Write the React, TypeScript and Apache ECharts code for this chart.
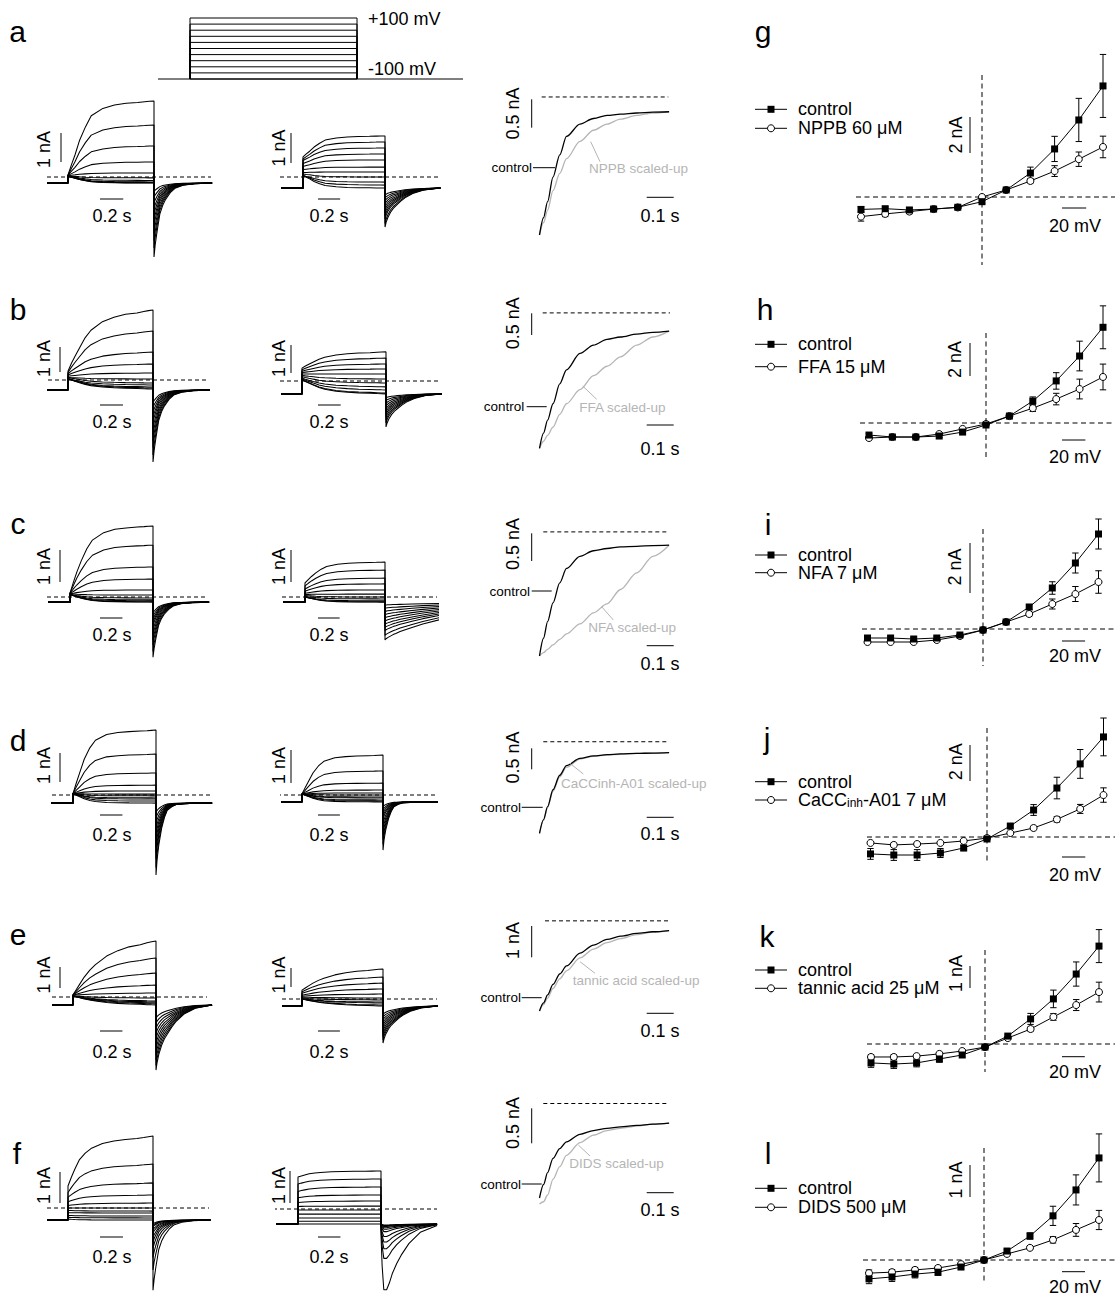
import React, { useEffect, useRef } from "react";
import * as echarts from "echarts";

const FONT = '"Liberation Sans", Arial, Helvetica, sans-serif';
const GRAY = "#b5b5b5";

// ---------------- voltage protocol ----------------
const STEPS_MV = [-100, -80, -60, -40, -20, 0, 20, 40, 60, 80, 100];
const HOLD_MV = -100;
const STEP_S = 0.74;

// ---------------- activation time course and normalized shapes ----------------
// sample times (s) for the expanded comparison panels
const ACT_T = [0, 0.015, 0.03, 0.05, 0.075, 0.1, 0.15, 0.2, 0.25, 0.3, 0.36, 0.42, 0.48];
// sample times (s) for the families of current traces (same shape samples, full step)
const TRACE_ACT_T = [0, 0.03, 0.06, 0.1, 0.15, 0.2, 0.3, 0.4, 0.5, 0.6, 0.66, 0.7, 0.74];
const actA_control = [0, 0.14, 0.27, 0.47, 0.65, 0.8, 0.9, 0.945, 0.97, 0.98, 0.99, 0.997, 1];
const actA_NPPB = [0, 0.1, 0.2, 0.36, 0.5, 0.62, 0.76, 0.85, 0.9, 0.94, 0.97, 0.99, 1];
const actB_control = [0, 0.13, 0.24, 0.38, 0.55, 0.67, 0.81, 0.88, 0.93, 0.95, 0.975, 0.99, 1];
const actB_FFA = [0, 0.06, 0.11, 0.18, 0.29, 0.38, 0.5, 0.62, 0.7, 0.78, 0.88, 0.95, 1];
const actC_control = [0, 0.16, 0.31, 0.48, 0.66, 0.79, 0.9, 0.95, 0.97, 0.985, 0.99, 0.997, 1];
const actC_NFA = [0, 0.03, 0.06, 0.1, 0.15, 0.2, 0.29, 0.39, 0.47, 0.6, 0.75, 0.9, 1];
const actD_control = [0, 0.17, 0.33, 0.54, 0.72, 0.84, 0.93, 0.96, 0.975, 0.985, 0.99, 0.995, 1];
const actD_CaCCinh = [0, 0.16, 0.32, 0.52, 0.7, 0.82, 0.92, 0.955, 0.97, 0.98, 0.99, 0.995, 1];
const actE_control = [0, 0.1, 0.2, 0.33, 0.46, 0.56, 0.72, 0.82, 0.89, 0.93, 0.965, 0.985, 1];
const actE_tannic = [0, 0.08, 0.16, 0.28, 0.4, 0.5, 0.66, 0.77, 0.85, 0.9, 0.95, 0.98, 1];
const actF_control = [0, 0.18, 0.34, 0.53, 0.66, 0.75, 0.85, 0.9, 0.93, 0.95, 0.97, 0.985, 1];
const actF_DIDS = [-0.08, -0.05, 0.04, 0.25, 0.42, 0.57, 0.74, 0.84, 0.9, 0.93, 0.96, 0.985, 1];

// ---------------- tail current time course (s after step end), fraction of peak ----------------
const TAIL_T = [0, 0.01, 0.025, 0.05, 0.075, 0.1, 0.14, 0.18, 0.25, 0.35, 0.5];
const tailFast = [1, 0.84, 0.67, 0.42, 0.3, 0.22, 0.13, 0.07, 0.03, 0.01, 0];
const tailVeryFast = [1, 0.78, 0.58, 0.35, 0.2, 0.1, 0.05, 0.02, 0.01, 0, 0];
const tailMedium = [1, 0.88, 0.76, 0.62, 0.52, 0.45, 0.34, 0.25, 0.14, 0.05, 0];
const tailSlow = [1, 0.97, 0.94, 0.9, 0.86, 0.83, 0.78, 0.74, 0.67, 0.58, 0.47];
const tailHook = [0.15, 0.6, 0.95, 0.95, 0.85, 0.72, 0.57, 0.45, 0.28, 0.12, 0.02];

// ---------------- current families (nA, relative to zero current), per step -100..+100 mV ----------------
const aControlBase = -0.21;
const aControlStart = [0.02, 0.02, 0.03, 0.03, 0.04, 0.04, 0.05, 0.05, 0.06, 0.06, 0.07];
const aControlEnd = [-0.21, -0.2, -0.19, -0.17, -0.12, -0.03, 0.14, 0.52, 1.07, 1.79, 2.62];
const aControlTail = [-0.5, -0.7, -0.9, -1.1, -1.3, -1.5, -1.7, -1.95, -2.2, -2.45, -2.76];
const aDrugBase = -0.37;
const aDrugStart = [0.05, 0.05, 0.05, 0.1, 0.15, 0.25, 0.35, 0.45, 0.55, 0.6, 0.67];
const aDrugEnd = [-0.37, -0.27, -0.17, 0, 0.17, 0.33, 0.57, 0.77, 0.97, 1.17, 1.37];
const aDrugTail = [-0.6, -0.7, -0.8, -0.9, -1.0, -1.1, -1.2, -1.3, -1.4, -1.55, -1.67];

const bControlBase = -0.4;
const bControlStart = [0.05, 0.05, 0.05, 0.05, 0.1, 0.1, 0.15, 0.2, 0.25, 0.3, 0.35];
const bControlEnd = [-0.36, -0.32, -0.28, -0.2, -0.12, 0.04, 0.28, 0.64, 1.12, 1.96, 2.8];
const bControlTail = [-0.9, -1.1, -1.3, -1.5, -1.7, -1.95, -2.2, -2.45, -2.7, -3.0, -3.28];
const bDrugBase = -0.46;
const bDrugStart = [0.05, 0.05, 0.08, 0.1, 0.15, 0.2, 0.25, 0.3, 0.35, 0.4, 0.46];
const bDrugEnd = [-0.46, -0.43, -0.32, -0.21, -0.07, 0.07, 0.25, 0.43, 0.61, 0.82, 1.04];
const bDrugTail = [-0.6, -0.7, -0.8, -0.9, -1.0, -1.1, -1.2, -1.3, -1.4, -1.5, -1.64];

const cControlBase = -0.16;
const cControlStart = [0.08, 0.08, 0.08, 0.08, 0.08, 0.1, 0.1, 0.1, 0.12, 0.12, 0.12];
const cControlEnd = [-0.16, -0.15, -0.12, -0.09, -0.03, 0.06, 0.22, 0.56, 0.94, 1.62, 2.22];
const cControlTail = [-0.5, -0.6, -0.7, -0.8, -0.9, -1.05, -1.2, -1.35, -1.5, -1.7, -1.88];
const cDrugBase = -0.16;
const cDrugStart = [0, 0, 0, 0.02, 0.05, 0.08, 0.12, 0.18, 0.25, 0.35, 0.44];
const cDrugEnd = [-0.16, -0.15, -0.12, -0.06, 0, 0.09, 0.22, 0.41, 0.59, 0.84, 1.09];
const cDrugTail = [-0.25, -0.35, -0.45, -0.55, -0.65, -0.75, -0.85, -0.95, -1.05, -1.2, -1.34];

const dControlBase = -0.28;
const dControlStart = [0.05, 0.05, 0.05, 0.05, 0.05, 0.05, 0.05, 0.05, 0.05, 0.05, 0.05];
const dControlEnd = [-0.28, -0.21, -0.14, -0.1, -0.03, 0.03, 0.14, 0.34, 0.76, 1.41, 2.24];
const dControlTail = [-0.6, -0.8, -1.0, -1.2, -1.4, -1.6, -1.8, -2.0, -2.2, -2.5, -2.76];
const dDrugBase = -0.21;
const dDrugStart = [0.03, 0.03, 0.03, 0.03, 0.03, 0.03, 0.03, 0.03, 0.03, 0.03, 0.03];
const dDrugEnd = [-0.21, -0.18, -0.15, -0.09, -0.06, 0, 0.06, 0.15, 0.36, 0.73, 1.21];
const dDrugTail = [-0.35, -0.45, -0.55, -0.65, -0.75, -0.9, -1.05, -1.2, -1.35, -1.5, -1.67];

const eControlBase = -0.38;
const eControlStart = [0.05, 0.05, 0.05, 0.05, 0.05, 0.05, 0.08, 0.08, 0.1, 0.1, 0.1];
const eControlEnd = [-0.38, -0.33, -0.29, -0.24, -0.19, -0.05, 0.19, 0.57, 1.14, 1.86, 2.67];
const eControlTail = [-1.0, -1.25, -1.5, -1.75, -2.0, -2.25, -2.5, -2.75, -3.0, -3.25, -3.48];
const eDrugBase = -0.37;
const eDrugStart = [0, 0, 0, 0, 0.05, 0.1, 0.15, 0.2, 0.3, 0.38, 0.47];
const eDrugEnd = [-0.37, -0.32, -0.21, -0.16, -0.05, 0.05, 0.26, 0.53, 0.84, 1.16, 1.58];
const eDrugTail = [-0.8, -0.95, -1.1, -1.25, -1.4, -1.55, -1.7, -1.85, -2.0, -2.15, -2.32];

const fControlBase = -0.39;
const fControlStart = [-0.36, -0.3, -0.24, -0.15, -0.08, 0, 0.08, 0.2, 0.35, 0.5, 0.71];
const fControlEnd = [-0.39, -0.32, -0.26, -0.16, -0.1, 0, 0.16, 0.42, 0.81, 1.42, 2.32];
const fControlTail = [-0.5, -0.55, -0.6, -0.7, -0.8, -0.95, -1.1, -1.3, -1.6, -2.0, -2.65];
const fDrugBase = -0.47;
const fDrugStart = [-0.47, -0.38, -0.28, -0.16, -0.03, 0.08, 0.2, 0.35, 0.55, 0.78, 1.0];
const fDrugEnd = [-0.47, -0.38, -0.28, -0.16, -0.03, 0.09, 0.25, 0.44, 0.69, 0.94, 1.19];
const fDrugTail = [-0.5, -0.52, -0.55, -0.59, -0.64, -0.72, -0.88, -1.06, -1.28, -1.6, -2.63];

// ---------------- normalized comparison panels (nA) ----------------
const NORM_RISE = [2.17, 2.7, 2.0, 1.92, 2.57, 1.07];
const NORM_DASH = [2.43, 3.12, 2.24, 2.18, 2.88, 1.35];
const NORM_DRUG_LABELS = ["NPPB scaled-up", "FFA scaled-up", "NFA scaled-up", "CaCCinh-A01 scaled-up", "tannic acid scaled-up", "DIDS scaled-up"];
const NORM_BAR_LABELS = ["0.5 nA", "0.5 nA", "0.5 nA", "0.5 nA", "1 nA", "0.5 nA"];
const NORM_BAR_VALUES = [0.5, 0.5, 0.5, 0.5, 1, 0.5];

// ---------------- I-V relations (nA), mean and SEM ----------------
const gControl = [-0.69, -0.65, -0.72, -0.67, -0.57, -0.26, 0.39, 1.33, 2.67, 4.28, 6.17];
const gControlErr = [0.15, 0.1, 0.12, 0.1, 0.1, 0.08, 0.08, 0.33, 0.7, 1.2, 1.75];
const gDrug = [-1.09, -0.94, -0.81, -0.67, -0.58, 0, 0.39, 0.89, 1.44, 2.1, 2.78];
const gDrugErr = [0.25, 0.15, 0.12, 0.1, 0.08, 0.05, 0.05, 0.12, 0.3, 0.4, 0.6];

const hControl = [-0.73, -0.85, -0.85, -0.79, -0.55, -0.12, 0.42, 1.33, 2.55, 4.06, 5.8];
const hControlErr = [0.1, 0.08, 0.08, 0.08, 0.08, 0.06, 0.06, 0.25, 0.5, 0.9, 1.3];
const hDrug = [-0.91, -0.85, -0.85, -0.67, -0.36, -0.06, 0.42, 0.9, 1.45, 2.06, 2.79];
const hDrugErr = [0.1, 0.08, 0.08, 0.08, 0.06, 0.06, 0.06, 0.2, 0.35, 0.6, 0.78];

const iControl = [-0.36, -0.36, -0.4, -0.36, -0.24, -0.04, 0.28, 0.88, 1.64, 2.64, 3.8];
const iControlErr = [0.08, 0.06, 0.06, 0.06, 0.05, 0.04, 0.04, 0.1, 0.25, 0.4, 0.6];
const iDrug = [-0.52, -0.52, -0.52, -0.44, -0.28, -0.04, 0.28, 0.6, 1.0, 1.4, 1.88];
const iDrugErr = [0.06, 0.06, 0.06, 0.05, 0.04, 0.04, 0.04, 0.08, 0.2, 0.3, 0.45];

const jControl = [-0.94, -1.0, -1.0, -0.89, -0.61, -0.11, 0.61, 1.5, 2.72, 4.06, 5.56];
const jControlErr = [0.3, 0.3, 0.3, 0.25, 0.15, 0.08, 0.1, 0.3, 0.6, 0.8, 1.05];
const jDrug = [-0.33, -0.44, -0.39, -0.33, -0.22, -0.06, 0.22, 0.5, 0.98, 1.56, 2.33];
const jDrugErr = [0.08, 0.1, 0.08, 0.08, 0.06, 0.05, 0.05, 0.1, 0.15, 0.25, 0.4];

const kControl = [-0.86, -0.91, -0.86, -0.68, -0.5, -0.14, 0.36, 1.14, 2.05, 3.18, 4.45];
const kControlErr = [0.2, 0.2, 0.18, 0.15, 0.1, 0.06, 0.06, 0.25, 0.4, 0.55, 0.75];
const kDrug = [-0.59, -0.59, -0.55, -0.45, -0.32, -0.14, 0.27, 0.68, 1.23, 1.77, 2.36];
const kDrugErr = [0.1, 0.1, 0.08, 0.08, 0.06, 0.05, 0.05, 0.1, 0.15, 0.25, 0.45];

const lControl = [-0.59, -0.53, -0.44, -0.38, -0.22, 0, 0.28, 0.75, 1.38, 2.19, 3.19];
const lControlErr = [0.15, 0.14, 0.12, 0.1, 0.06, 0.04, 0.05, 0.1, 0.3, 0.47, 0.75];
const lDrug = [-0.41, -0.38, -0.31, -0.25, -0.13, 0, 0.19, 0.38, 0.63, 0.94, 1.25];
const lDrugErr = [0.1, 0.08, 0.08, 0.06, 0.05, 0.04, 0.04, 0.05, 0.1, 0.2, 0.3];

const IV_DRUG_NAMES = ["NPPB 60 μM", "FFA 15 μM", "NFA 7 μM", "CaCC{s|inh}-A01 7 μM", "tannic acid 25 μM", "DIDS 500 μM"];

// ---------------- layout (pixels) ----------------
const COL_X = [
  { hbarX: 100, sTextX: 112, nAX: 43.5 },
  { hbarX: 318, sTextX: 329, nAX: 278.5 },
];
const TRACE_LAYOUT = [
  [{ onsetX: 68, endX: 154, zeroY: 177, ppu: 29, x0: 47, x1: 212, dash: [47, 211], barX: 61, barBottom: 162, hbarY: 199, sTextY: 215.5, nAY: 149.5 },
   { onsetX: 303, endX: 385, zeroY: 177, ppu: 30, x0: 281, x1: 440, dash: [280, 440], barX: 291, barBottom: 163, hbarY: 199, sTextY: 215.5, nAY: 148 }],
  [{ onsetX: 68, endX: 153, zeroY: 380, ppu: 25, x0: 47, x1: 208, dash: [34, 207], barX: 60, barBottom: 372, hbarY: 405, sTextY: 421.5, nAY: 358.5 },
   { onsetX: 302, endX: 386, zeroY: 381, ppu: 28, x0: 281, x1: 440, dash: [280, 443], barX: 291, barBottom: 373, hbarY: 405, sTextY: 421.5, nAY: 358.5 }],
  [{ onsetX: 70, endX: 153, zeroY: 597, ppu: 32, x0: 48, x1: 208, dash: [47, 208], barX: 60, barBottom: 582, hbarY: 618, sTextY: 635, nAY: 566.5 },
   { onsetX: 305, endX: 385, zeroY: 597, ppu: 32, x0: 283, x1: 437, dash: [282, 437], barX: 291, barBottom: 582, hbarY: 618, sTextY: 635, nAY: 566.5 }],
  [{ onsetX: 73, endX: 156, zeroY: 795, ppu: 29, x0: 51, x1: 212, dash: [52, 212], barX: 60, barBottom: 782, hbarY: 815, sTextY: 834.5, nAY: 765.5 },
   { onsetX: 302, endX: 383, zeroY: 795, ppu: 33, x0: 281, x1: 437, dash: [277, 437], barX: 291, barBottom: 783, hbarY: 815, sTextY: 834.5, nAY: 765.5 }],
  [{ onsetX: 73, endX: 156, zeroY: 997, ppu: 21, x0: 52, x1: 211, dash: [52, 207], barX: 60, barBottom: 988, hbarY: 1031, sTextY: 1051.5, nAY: 975 },
   { onsetX: 302, endX: 383, zeroY: 999, ppu: 19, x0: 282, x1: 436, dash: [282, 437], barX: 291, barBottom: 987, hbarY: 1031, sTextY: 1051.5, nAY: 975 }],
  [{ onsetX: 68, endX: 153, zeroY: 1208, ppu: 31, x0: 47, x1: 209, dash: [47, 209], barX: 60, barBottom: 1203, hbarY: 1237, sTextY: 1256.5, nAY: 1185.5 },
   { onsetX: 298, endX: 381, zeroY: 1209, ppu: 32, x0: 276, x1: 437, dash: [273, 437], barX: 290, barBottom: 1203, hbarY: 1237, sTextY: 1256.5, nAY: 1185.5 }],
];
const NORM_LAYOUT = [
  { startY: 235, ppu: 56.8, dash: [541.7, 668.3], barBottom: 127.7, labelY: 113.5, hbarY: 197.3, sTextY: 215.5, ctrlY: 167.7, ctrlRight: 532, ctrlLine: [533, 555], drugX: 589, drugY: 168, ptr: [600, 161.7, 590.7, 141.7] },
  { startY: 448.3, ppu: 43.4, dash: [542.7, 670], barBottom: 335, labelY: 323.3, hbarY: 425, sTextY: 449, ctrlY: 406.7, ctrlRight: 524.3, ctrlLine: [526.7, 546.7], drugX: 579.3, drugY: 407, ptr: [596.7, 399.3, 582.7, 386] },
  { startY: 656, ppu: 55.4, dash: [543.3, 669.3], barBottom: 561, labelY: 544, hbarY: 645.7, sTextY: 664, ctrlY: 591, ctrlRight: 530, ctrlLine: [531.7, 551.7], drugX: 588.3, drugY: 627.7, ptr: [613.3, 620, 601.7, 606.7] },
  { startY: 833.3, ppu: 42, dash: [543.3, 669.3], barBottom: 769.3, labelY: 757.5, hbarY: 817.3, sTextY: 834, ctrlY: 807.3, ctrlRight: 521, ctrlLine: [521.7, 542.7], drugX: 561, drugY: 783.3, ptr: [583.3, 774, 570, 763.3] },
  { startY: 1011, ppu: 31.3, dash: [545, 670], barBottom: 957.3, labelY: 940.5, hbarY: 1013.3, sTextY: 1030.8, ctrlY: 997.7, ctrlRight: 521, ctrlLine: [521.7, 541.7], drugX: 572.7, drugY: 980, ptr: [595, 973.3, 580, 961.7] },
  { startY: 1198, ppu: 70, dash: [543.3, 669.3], barBottom: 1143.3, labelY: 1123, hbarY: 1192.7, sTextY: 1210, ctrlY: 1184, ctrlRight: 521, ctrlLine: [521.7, 541.7], drugX: 569.3, drugY: 1163.3, ptr: [590, 1156, 578.3, 1145] },
];
const IV_LAYOUT = [
  { zeroX: 982, sx: 1.21, zeroY: 197, sy: 18, hdash: [856, 1115], vdash: [75, 265], barV: 2, barLabel: "2 nA", barLabelX: 955.5, barLabelY: 135, barBottom: 153, mvBarY: 208, mvTextY: 226, legY: [109.3, 128.3] },
  { zeroX: 986, sx: 1.17, zeroY: 423, sy: 16.5, hdash: [860, 1115], vdash: [333, 458], barV: 2, barLabel: "2 nA", barLabelX: 954.5, barLabelY: 359.5, barBottom: 376, mvBarY: 440, mvTextY: 456.5, legY: [344.3, 366.7] },
  { zeroX: 983, sx: 1.155, zeroY: 629, sy: 25, hdash: [862, 1115], vdash: [529, 666], barV: 2, barLabel: "2 nA", barLabelX: 954.5, barLabelY: 567, barBottom: 593, mvBarY: 641, mvTextY: 656, legY: [555, 572.7] },
  { zeroX: 987, sx: 1.165, zeroY: 837, sy: 18, hdash: [867, 1115], vdash: [728, 864], barV: 2, barLabel: "2 nA", barLabelX: 955.5, barLabelY: 761.7, barBottom: 781, mvBarY: 857, mvTextY: 875, legY: [781.7, 800] },
  { zeroX: 985, sx: 1.14, zeroY: 1044, sy: 22, hdash: [867, 1115], vdash: [950, 1072], barV: 1, barLabel: "1 nA", barLabelX: 956, barLabelY: 973.5, barBottom: 988, mvBarY: 1056.7, mvTextY: 1071.7, legY: [970, 988.3] },
  { zeroX: 984, sx: 1.15, zeroY: 1260, sy: 32, hdash: [863, 1115], vdash: [1148, 1284], barV: 1, barLabel: "1 nA", barLabelX: 956, barLabelY: 1180, barBottom: 1197, mvBarY: 1271.7, mvTextY: 1286.7, legY: [1188.3, 1207.3] },
];
const LETTERS: [string, number, number][] = [
  ["a", 17.5, 31.3], ["b", 18, 309], ["c", 18, 523], ["d", 18, 740], ["e", 18, 934], ["f", 17, 1153],
  ["g", 763, 31], ["h", 765, 309], ["i", 768, 524], ["j", 767, 738], ["k", 767, 936], ["l", 768, 1153],
];

function buildOption() {
  const grid: any[] = [];
  const xAxis: any[] = [];
  const yAxis: any[] = [];
  const series: any[] = [];
  const gfx: any[] = [];

  const addGrid = (x0: number, sx: number, y0: number, sy: number, xmin: number, xmax: number, ymin: number, ymax: number) => {
    const idx = grid.length;
    grid.push({ left: x0 + xmin * sx, top: y0 - ymax * sy, width: (xmax - xmin) * sx, height: (ymax - ymin) * sy, show: false, containLabel: false, outerBoundsMode: "none" });
    xAxis.push({ type: "value", gridIndex: idx, min: xmin, max: xmax, show: false, splitLine: { show: false } });
    yAxis.push({ type: "value", gridIndex: idx, min: ymin, max: ymax, show: false, splitLine: { show: false } });
    return idx;
  };
  const line = (gi: number, data: number[][], o: any = {}) => ({
    type: "line", xAxisIndex: gi, yAxisIndex: gi, data, symbol: "none", showSymbol: false, silent: true,
    clip: o.clip ?? true, smooth: o.smooth ?? false, smoothMonotone: o.smooth ? "x" : undefined, z: o.z ?? 2,
    lineStyle: { color: o.color ?? "#000", width: o.width ?? 1, type: o.dash ?? "solid" },
  });
  const T = (text: string, x: number, y: number, size: number, o: any = {}) => ({
    type: "text", x, y, rotation: o.rot ?? 0, silent: true, z: 10,
    style: {
      text, fontSize: size, fontFamily: FONT, fill: o.fill ?? "#000",
      align: o.align ?? "center", verticalAlign: "middle", textAlign: o.align ?? "center", textVerticalAlign: "middle",
      rich: o.rich,
    },
  });
  const L = (x1: number, y1: number, x2: number, y2: number, stroke = "#000", w = 1) => ({
    type: "line", silent: true, z: 10, shape: { x1, y1, x2, y2 }, style: { stroke, lineWidth: w },
  });

  // ---- voltage protocol ----
  const pSx = 225.7, pX0 = 190, pSy = 0.305, pY0 = 48.5;
  const pg = addGrid(pX0, pSx, pY0, pSy, -0.2, 1.3, -120, 120);
  series.push(line(pg, [[(158 - pX0) / pSx, HOLD_MV], [(463 - pX0) / pSx, HOLD_MV]], { clip: false }));
  STEPS_MV.forEach((v) => series.push(line(pg, [[0, HOLD_MV], [0, v], [STEP_S, v], [STEP_S, HOLD_MV]], { clip: false })));
  gfx.push(T("+100 mV", 368, 19, 18, { align: "left" }));
  gfx.push(T("-100 mV", 368, 69, 18, { align: "left" }));

  // ---- current families ----
  const families = [
    [[aControlBase, aControlStart, aControlEnd, aControlTail, actA_control, tailFast], [aDrugBase, aDrugStart, aDrugEnd, aDrugTail, actA_control, tailMedium]],
    [[bControlBase, bControlStart, bControlEnd, bControlTail, actB_control, tailFast], [bDrugBase, bDrugStart, bDrugEnd, bDrugTail, actB_control, tailMedium]],
    [[cControlBase, cControlStart, cControlEnd, cControlTail, actC_control, tailFast], [cDrugBase, cDrugStart, cDrugEnd, cDrugTail, actC_control, tailSlow]],
    [[dControlBase, dControlStart, dControlEnd, dControlTail, actD_control, tailVeryFast], [dDrugBase, dDrugStart, dDrugEnd, dDrugTail, actD_control, tailVeryFast]],
    [[eControlBase, eControlStart, eControlEnd, eControlTail, actE_control, tailMedium], [eDrugBase, eDrugStart, eDrugEnd, eDrugTail, actE_control, tailMedium]],
    [[fControlBase, fControlStart, fControlEnd, fControlTail, actF_control, tailFast], [fDrugBase, fDrugStart, fDrugEnd, fDrugTail, actF_control, tailHook]],
  ] as any[];

  families.forEach((row: any[], r: number) => {
    row.forEach((fam: any[], c: number) => {
      const [base, start, end, tail, act, tailShape] = fam;
      const Ly = TRACE_LAYOUT[r][c];
      const cx = COL_X[c];
      const sx = (Ly.endX - Ly.onsetX) / STEP_S;
      const pre = (Ly.onsetX - Ly.x0) / sx;
      const tailWin = (Ly.x1 - Ly.endX) / sx;
      const gi = addGrid(Ly.onsetX, sx, Ly.zeroY, Ly.ppu, -pre, STEP_S + tailWin, -4, 4);
      series.push(line(gi, [[(Ly.dash[0] - Ly.onsetX) / sx, 0], [(Ly.dash[1] - Ly.onsetX) / sx, 0]], { clip: false, dash: [4, 3], z: 1 }));
      STEPS_MV.forEach((_, i) => {
        const s = start[i], e = end[i], tp = tail[i];
        const pts: number[][] = [[-pre, base], [0, base]];
        TRACE_ACT_T.forEach((t, k) => pts.push([t, s + (e - s) * act[k]]));
        TAIL_T.forEach((t, k) => pts.push([STEP_S + t, base + (tp - base) * tailShape[k]]));
        series.push(line(gi, pts, { width: 1.05 }));
      });
      gfx.push(L(Ly.barX, Ly.barBottom, Ly.barX, Ly.barBottom - Ly.ppu));
      gfx.push(L(cx.hbarX, Ly.hbarY, cx.hbarX + 0.2 * sx, Ly.hbarY));
      gfx.push(T("0.2 s", cx.sTextX, Ly.sTextY, 18));
      gfx.push(T("1 nA", cx.nAX, Ly.nAY, 18, { rot: Math.PI / 2 }));
    });
  });

  // ---- normalized activation comparison ----
  const normShapes = [
    [actA_control, actA_NPPB], [actB_control, actB_FFA], [actC_control, actC_NFA],
    [actD_control, actD_CaCCinh], [actE_control, actE_tannic], [actF_control, actF_DIDS],
  ];
  const nX0 = 539.5, nSx = 270;
  NORM_LAYOUT.forEach((Ly, r) => {
    const rise = NORM_RISE[r];
    const gi = addGrid(nX0, nSx, Ly.startY, Ly.ppu, -0.05, 0.55, -1, 4);
    series.push(line(gi, [[(Ly.dash[0] - nX0) / nSx, NORM_DASH[r]], [(Ly.dash[1] - nX0) / nSx, NORM_DASH[r]]], { clip: false, dash: [4, 3], z: 1 }));
    series.push(line(gi, ACT_T.map((t, k) => [t, rise * normShapes[r][1][k]]), { color: GRAY, width: 1.3, smooth: 0.3, clip: false, z: 2 }));
    series.push(line(gi, ACT_T.map((t, k) => [t, rise * normShapes[r][0][k]]), { color: "#000", width: 1.3, smooth: 0.3, clip: false, z: 3 }));
    const barLen = NORM_BAR_VALUES[r] * Ly.ppu;
    gfx.push(L(531.7, Ly.barBottom, 531.7, Ly.barBottom - barLen));
    gfx.push(T(NORM_BAR_LABELS[r], 512.5, Ly.labelY, 18, { rot: Math.PI / 2 }));
    gfx.push(L(646.7, Ly.hbarY, 646.7 + 0.1 * nSx, Ly.hbarY));
    gfx.push(T("0.1 s", 660, Ly.sTextY, 18));
    gfx.push(T("control", Ly.ctrlRight, Ly.ctrlY, 13.5, { align: "right" }));
    gfx.push(L(Ly.ctrlLine[0], Ly.ctrlY, Ly.ctrlLine[1], Ly.ctrlY));
    gfx.push(T(NORM_DRUG_LABELS[r], Ly.drugX, Ly.drugY, 13.5, { align: "left", fill: GRAY }));
    gfx.push(L(Ly.ptr[0], Ly.ptr[1], Ly.ptr[2], Ly.ptr[3], GRAY));
  });

  // ---- I-V relations ----
  const ivData = [
    [gControl, gControlErr, gDrug, gDrugErr], [hControl, hControlErr, hDrug, hDrugErr],
    [iControl, iControlErr, iDrug, iDrugErr], [jControl, jControlErr, jDrug, jDrugErr],
    [kControl, kControlErr, kDrug, kDrugErr], [lControl, lControlErr, lDrug, lDrugErr],
  ];
  const errRender = (params: any, api: any) => {
    const x = api.value(0), y = api.value(1), e = api.value(2);
    const top = api.coord([x, y + e]);
    const bot = api.coord([x, y - e]);
    const cw = 3.2;
    const st = { stroke: "#000", lineWidth: 1 };
    return {
      type: "group",
      children: [
        { type: "line", shape: { x1: top[0], y1: top[1], x2: bot[0], y2: bot[1] }, style: st },
        { type: "line", shape: { x1: top[0] - cw, y1: top[1], x2: top[0] + cw, y2: top[1] }, style: st },
        { type: "line", shape: { x1: bot[0] - cw, y1: bot[1], x2: bot[0] + cw, y2: bot[1] }, style: st },
      ],
    };
  };
  IV_LAYOUT.forEach((Ly, r) => {
    const [ctrl, ctrlErr, drug, drugErr] = ivData[r];
    const gi = addGrid(Ly.zeroX, Ly.sx, Ly.zeroY, Ly.sy, -110, 115, -5, 9);
    series.push(line(gi, [[(Ly.hdash[0] - Ly.zeroX) / Ly.sx, 0], [(Ly.hdash[1] - Ly.zeroX) / Ly.sx, 0]], { clip: false, dash: [5, 3.5], z: 1 }));
    series.push(line(gi, [[0, (Ly.zeroY - Ly.vdash[0]) / Ly.sy], [0, (Ly.zeroY - Ly.vdash[1]) / Ly.sy]], { clip: false, dash: [5, 3.5], z: 1 }));
    series.push({ type: "custom", xAxisIndex: gi, yAxisIndex: gi, silent: true, z: 2, renderItem: errRender, encode: { x: 0, y: 1 }, data: STEPS_MV.map((v, i) => [v, ctrl[i], ctrlErr[i]]) });
    series.push({ type: "custom", xAxisIndex: gi, yAxisIndex: gi, silent: true, z: 2, renderItem: errRender, encode: { x: 0, y: 1 }, data: STEPS_MV.map((v, i) => [v, drug[i], drugErr[i]]) });
    series.push({
      type: "line", xAxisIndex: gi, yAxisIndex: gi, silent: true, z: 3, clip: false, showAllSymbol: true,
      data: STEPS_MV.map((v, i) => [v, drug[i]]), symbol: "circle", symbolSize: 7,
      itemStyle: { color: "#fff", borderColor: "#000", borderWidth: 1 }, lineStyle: { color: "#000", width: 1 },
    });
    series.push({
      type: "line", xAxisIndex: gi, yAxisIndex: gi, silent: true, z: 4, clip: false, showAllSymbol: true,
      data: STEPS_MV.map((v, i) => [v, ctrl[i]]), symbol: "rect", symbolSize: 7,
      itemStyle: { color: "#000" }, lineStyle: { color: "#000", width: 1 },
    });
    gfx.push(L(970, Ly.barBottom, 970, Ly.barBottom - Ly.barV * Ly.sy));
    gfx.push(T(Ly.barLabel, Ly.barLabelX, Ly.barLabelY, 18, { rot: Math.PI / 2 }));
    gfx.push(L(1062, Ly.mvBarY, 1062 + 20 * Ly.sx, Ly.mvBarY));
    gfx.push(T("20 mV", 1075, Ly.mvTextY, 18));
    const [y1, y2] = Ly.legY;
    gfx.push(L(755, y1, 787, y1));
    gfx.push({ type: "rect", silent: true, z: 11, shape: { x: 767.5, y: y1 - 3.5, width: 7, height: 7 }, style: { fill: "#000" } });
    gfx.push(T("control", 798, y1, 18, { align: "left" }));
    gfx.push(L(755, y2, 787, y2));
    gfx.push({ type: "circle", silent: true, z: 11, shape: { cx: 771, cy: y2, r: 3.5 }, style: { fill: "#fff", stroke: "#000", lineWidth: 1 } });
    gfx.push(T(IV_DRUG_NAMES[r], 798, y2, 18, { align: "left", rich: { s: { fontSize: 12, fontFamily: FONT, fill: "#000", verticalAlign: "bottom" } } }));
  });

  // ---- panel letters ----
  LETTERS.forEach(([ch, x, y]) => gfx.push(T(ch, x, y, 30)));

  return {
    animation: false,
    backgroundColor: "#fff",
    grid, xAxis, yAxis, series,
    tooltip: { show: false },
    graphic: { elements: gfx },
  };
}

export default function App() {
  const ref = useRef<HTMLDivElement>(null);
  useEffect(() => {
    if (!ref.current) return;
    const chart = echarts.init(ref.current, undefined, { renderer: "svg", width: 1115, height: 1299 });
    chart.setOption(buildOption() as any);
    return () => chart.dispose();
  }, []);
  return <div ref={ref} style={{ position: "absolute", left: 0, top: 0, width: 1115, height: 1299, background: "#fff" }} />;
}
